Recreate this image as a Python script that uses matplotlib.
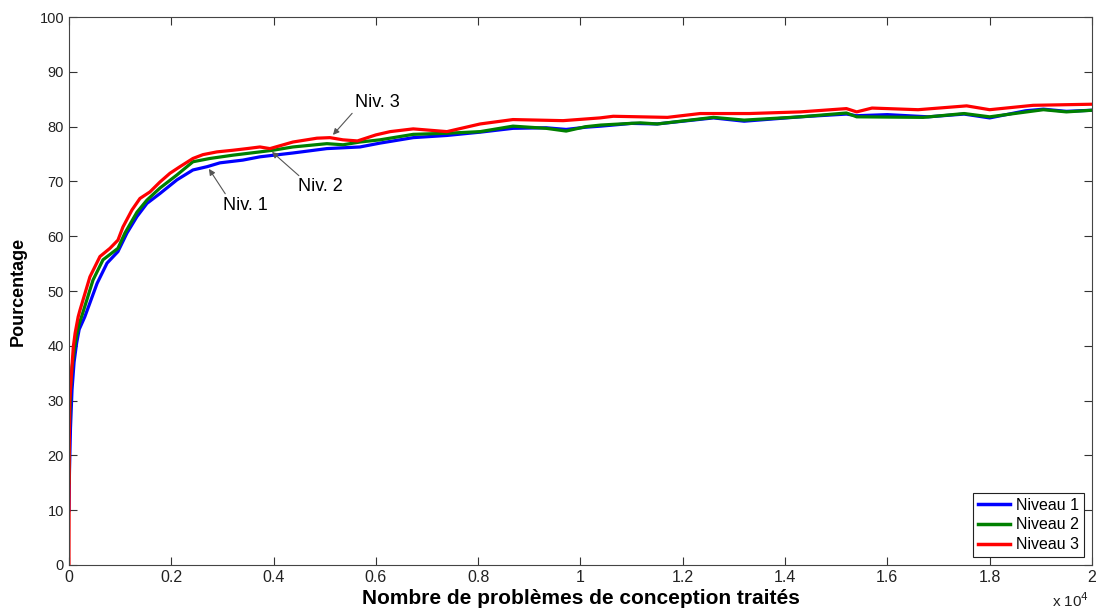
import numpy as np
import matplotlib
matplotlib.use('Agg')
import matplotlib.pyplot as plt
from matplotlib.ticker import FixedLocator, FuncFormatter

plt.rcParams['font.family'] = ['Liberation Sans', 'DejaVu Sans']

# number of problems treated / percentage
x_n1 = [0, 10, 30, 60, 100, 150, 200, 310, 550, 745, 958, 1135, 1330, 1525, 1779,
        2112, 2424, 2700, 2952, 3400, 3734, 4379, 5042, 5690, 6080, 6730, 7390,
        8040, 8680, 9330, 9720, 10100, 10400, 11000, 11500, 12600, 13200, 14300,
        15200, 15400, 16000, 16800, 17500, 18000, 18700, 19050, 19500, 20000]
y_n1 = [10, 17, 25, 32, 37, 40.5, 43, 45.3, 51.4, 55.1, 57.2, 60.6, 63.6, 66, 67.8,
        70.3, 72.1, 72.7, 73.4, 73.9, 74.5, 75.2, 76.0, 76.3, 77.0, 78.0, 78.4,
        79.0, 79.7, 79.8, 79.5, 79.9, 80.1, 80.6, 80.5, 81.6, 81.0, 81.8,
        82.3, 82.0, 82.2, 81.8, 82.3, 81.6, 82.9, 83.2, 82.8, 83.0]

x_n2 = [0, 10, 30, 60, 100, 150, 200, 270, 470, 665, 958, 1095, 1330, 1525, 1779,
        2112, 2424, 2757, 3206, 3734, 3988, 4379, 5042, 5360, 5690, 6080, 6730,
        7390, 8040, 8680, 9330, 9720, 10100, 10400, 11170, 11500, 12600, 13200,
        14300, 15200, 15400, 16700, 17500, 18000, 19050, 19500, 20000]
y_n2 = [15, 25, 32, 36, 39, 42, 44, 46, 52, 55.7, 57.8, 60.6, 64.4, 66.6, 68.8,
        71.2, 73.6, 74.2, 74.8, 75.4, 75.7, 76.3, 76.9, 76.7, 77.2, 77.6, 78.6,
        78.8, 79.1, 80.1, 79.7, 79.2, 80.0, 80.3, 80.7, 80.5, 81.7, 81.2,
        81.8, 82.5, 81.8, 81.7, 82.4, 81.8, 83.1, 82.7, 83.0]

x_n3 = [0, 5, 15, 50, 85, 120, 180, 215, 410, 606, 802, 958, 1056, 1232, 1388,
        1584, 1779, 1975, 2170, 2424, 2620, 2893, 3206, 3480, 3734, 3930, 4379,
        4848, 5103, 5357, 5640, 6000, 6280, 6730, 7390, 8040, 8680, 9660, 10380,
        10640, 11700, 12340, 13300, 14300, 15200, 15400, 15700, 16600, 17550,
        18000, 18850, 20000]
y_n3 = [0, 20, 30, 35, 39.8, 42.3, 45.3, 46.5, 52.6, 56.3, 57.8, 59.3, 61.7, 64.8, 66.9,
        68.1, 69.9, 71.5, 72.7, 74.2, 74.9, 75.4, 75.7, 76.0, 76.3, 76.0, 77.2,
        77.9, 78.0, 77.6, 77.4, 78.5, 79.1, 79.6, 79.1, 80.5, 81.3, 81.1, 81.6,
        81.9, 81.7, 82.4, 82.4, 82.7, 83.3, 82.7, 83.4, 83.1, 83.8,
        83.1, 83.9, 84.1]

xticks = [0, 2000, 4000, 6000, 8000, 10000, 12000, 14000, 16000, 18000, 20000]
yticks = [0, 10, 20, 30, 40, 50, 60, 70, 80, 90, 100]

fig = plt.figure(figsize=(10.98, 6.11), dpi=100)
ax = fig.add_axes([0.0628, 0.0753, 0.9317, 0.8967])

ax.plot(x_n1, y_n1, color=(0, 0, 1), lw=2.3, label='Niveau 1')
ax.plot(x_n2, y_n2, color=(0, 0.5, 0), lw=2.3, label='Niveau 2')
ax.plot(x_n3, y_n3, color=(1, 0, 0), lw=2.3, label='Niveau 3')

ax.set_xlim(0, 20000)
ax.set_ylim(0, 100)
ax.xaxis.set_major_locator(FixedLocator(xticks))
ax.yaxis.set_major_locator(FixedLocator(yticks))
ax.xaxis.set_major_formatter(FuncFormatter(lambda v, p: '%g' % (v / 1e4)))
ax.tick_params(direction='in', length=6, top=True, right=True,
               color='#333333', labelcolor='#222222')
ax.tick_params(axis='x', labelsize=11.5)
ax.tick_params(axis='y', labelsize=10.5)
for s in ax.spines.values():
    s.set_color('#444444')

ax.set_xlabel('Nombre de problèmes de conception traités', fontsize=15,
              fontweight='bold', va='top')
ax.xaxis.set_label_coords(0.5, -0.043)
ax.set_ylabel('Pourcentage', fontsize=13, fontweight='bold')
ax.yaxis.set_label_coords(-0.041, 0.5)
fig.text(0.958, 0.006, 'x 10$^4$', fontsize=11, color='#222222')

arw = dict(arrowstyle='-|>', color='#555555', lw=0.8, mutation_scale=9,
           shrinkA=0, shrinkB=0)
ax.annotate('Niv. 1', xy=(2737, 72.3), xytext=(3441, 65.7), fontsize=13,
            ha='center', va='center', arrowprops=dict(arw, relpos=(0.1, 1.0)))
ax.annotate('Niv. 2', xy=(3969, 75.4), xytext=(4907, 69.0), fontsize=13,
            ha='center', va='center', arrowprops=dict(arw, relpos=(0.1, 1.0)))
ax.annotate('Niv. 3', xy=(5161, 78.5), xytext=(6022, 84.5), fontsize=13,
            ha='center', va='center', arrowprops=dict(arw, relpos=(0.0, 0.0)))

leg = ax.legend(loc='lower right', fontsize=11.5, fancybox=False, framealpha=1,
                edgecolor='#222222', borderaxespad=0.5, handlelength=2.0,
                labelspacing=0.3, borderpad=0.3, handletextpad=0.4)
leg.get_frame().set_linewidth(0.8)
for l in leg.get_lines():
    l.set_linewidth(2.5)

fig.savefig('out.png', dpi=100)
